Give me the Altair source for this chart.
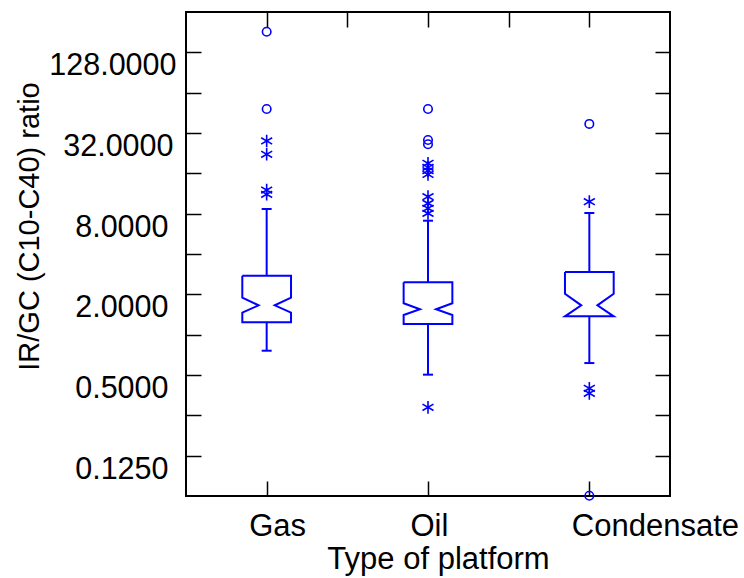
import altair as alt
import pandas as pd

# ---- data ----
categories = ["Gas", "Oil", "Condensate"]
positions = [1, 2, 3]
q1 = [1.236, 1.20, 1.371]
median = [1.656, 1.546, 1.656]
q3 = [2.755, 2.46, 2.94]
notch_lo = [1.459, 1.403, 1.371]
notch_hi = [1.888, 1.714, 2.02]
whisker_lo = [0.759, 0.503, 0.614]
whisker_hi = [8.67, 7.09, 8.09]

far_gas = [182.5, 48.3]
far_oil = [48.3, 28.4, 26.4]
far_cond = [37.4, 0.0628]
near_gas = [27.9, 22.2, 12.0, 11.16]
near_oil = [19.0, 17.75, 16.75, 15.7, 10.71, 9.55, 8.77, 8.04, 0.287]
near_cond = [9.83, 0.398, 0.365]

y_ticks = [0.125, 0.25, 0.5, 1, 2, 4, 8, 16, 32, 64, 128]
x_top_ticks = [1, 1.5, 2, 2.5, 3]

# ---- styling constants ----
BLUE = "#0000ff"
FONT = "Liberation Sans"
BOX_HALF = 0.151
NOTCH_HALF = 0.05
CAP_HALF = 0.031
STAR = "M0,-1L0,1M-0.87,-0.5L0.87,0.5M-0.87,0.5L0.87,-0.5"

# ---- tables built from the arrays ----
poly_rows = []
for i, c in enumerate(categories):
    x = positions[i]
    pts = [
        (x - BOX_HALF, q3[i]), (x + BOX_HALF, q3[i]), (x + BOX_HALF, notch_hi[i]),
        (x + NOTCH_HALF, median[i]), (x + BOX_HALF, notch_lo[i]), (x + BOX_HALF, q1[i]),
        (x - BOX_HALF, q1[i]), (x - BOX_HALF, notch_lo[i]), (x - NOTCH_HALF, median[i]),
        (x - BOX_HALF, notch_hi[i]), (x - BOX_HALF, q3[i]),
    ]
    for k, (px, py) in enumerate(pts):
        poly_rows.append({"cat": c, "k": k, "x": px, "y": py})
poly = pd.DataFrame(poly_rows)

whisk_rows = []
cap_rows = []
for i, c in enumerate(categories):
    x = positions[i]
    whisk_rows.append({"cat": c, "x": x, "y": q3[i], "y2": whisker_hi[i]})
    whisk_rows.append({"cat": c, "x": x, "y": q1[i], "y2": whisker_lo[i]})
    cap_rows.append({"cat": c, "xl": x - CAP_HALF, "xr": x + CAP_HALF, "y": whisker_hi[i]})
    cap_rows.append({"cat": c, "xl": x - CAP_HALF, "xr": x + CAP_HALF, "y": whisker_lo[i]})
whisk = pd.DataFrame(whisk_rows)
caps = pd.DataFrame(cap_rows)

far = pd.DataFrame(
    [{"x": positions[0], "y": v} for v in far_gas]
    + [{"x": positions[1], "y": v} for v in far_oil]
    + [{"x": positions[2], "y": v} for v in far_cond]
)
near = pd.DataFrame(
    [{"x": positions[0], "y": v} for v in near_gas]
    + [{"x": positions[1], "y": v} for v in near_oil]
    + [{"x": positions[2], "y": v} for v in near_cond]
)

xs = alt.Scale(domain=[0.5, 3.5], nice=False, zero=False)
ys = alt.Scale(type="log", base=2, domain=[0.0625, 256], nice=False)

label_expr_x = " : ".join(
    f"datum.value == {p} ? '{c}'" for p, c in zip(positions[:-1], categories[:-1])
) + f" : '{categories[-1]}'"

axis_bottom = alt.Axis(
    orient="bottom", offset=-15, values=positions, tickSize=15, tickWidth=1.5,
    tickColor="black", domain=False, grid=False, labelExpr=label_expr_x,
    labelAlign="left", labelBaseline="alphabetic", labelOffset=-18, labelPadding=39,
    labelFont=FONT, labelFontSize=31, labelColor="black", labelFlush=False,
    labelOverlap=False, title="Type of platform", titleFont=FONT, titleFontSize=31,
    titleFontWeight="normal", titleColor="black", titleX=252, titleY=87,
    titleBaseline="alphabetic", titleAlign="center",
)
axis_left = alt.Axis(
    orient="left", offset=-15, values=y_ticks, tickSize=15, tickWidth=1.5,
    tickColor="black", domain=False, grid=False,
    labelExpr="round(log(datum.value)/LN2) % 2 != 0 ? format(datum.value, '.4f') : ''",
    labelFont=FONT, labelFontSize=30.5, labelColor="black",
    labelPadding={
        "condition": [
            {"test": "datum.value >= 100", "value": 10},
            {"test": "datum.value >= 10", "value": 13},
        ],
        "value": 18,
    },
    labelOffset=13.5, labelBaseline="middle", labelAlign="right", labelFlush=False,
    labelOverlap=False, title="IR/GC (C10-C40) ratio", titleFont=FONT,
    titleFontSize=29, titleFontWeight="normal", titleColor="black", titleX=-163,
    titleY=214, titleAngle=270, titleBaseline="alphabetic", titleAlign="center",
)
axis_top = alt.Axis(
    orient="top", offset=-15, values=x_top_ticks, tickSize=15, tickWidth=1.5,
    tickColor="black", domain=False, grid=False, labels=False, title=None,
)
axis_right = alt.Axis(
    orient="right", offset=-15, values=y_ticks, tickSize=15, tickWidth=1.5,
    tickColor="black", domain=False, grid=False, labels=False, title=None,
)

box = alt.Chart(poly).mark_line(color=BLUE, strokeWidth=2, strokeJoin="miter").encode(
    x=alt.X("x:Q", scale=xs, axis=axis_bottom),
    y=alt.Y("y:Q", scale=ys, axis=axis_left),
    detail="cat:N",
    order="k:Q",
)
whiskers = alt.Chart(whisk).mark_rule(color=BLUE, strokeWidth=2).encode(
    x=alt.X("x:Q", scale=xs, axis=axis_top),
    y=alt.Y("y:Q", scale=ys, axis=axis_right),
    y2="y2:Q",
)
cap_marks = alt.Chart(caps).mark_rule(color=BLUE, strokeWidth=2).encode(
    x=alt.X("xl:Q", scale=xs, axis=None),
    x2="xr:Q",
    y=alt.Y("y:Q", scale=ys, axis=None),
)
circles = alt.Chart(far).mark_point(
    shape="circle", size=72, filled=False, color=BLUE, strokeWidth=1.6, opacity=1
).encode(
    x=alt.X("x:Q", scale=xs, axis=None),
    y=alt.Y("y:Q", scale=ys, axis=None),
)
stars = alt.Chart(near).mark_point(
    shape=STAR, size=160, filled=False, color=BLUE, strokeWidth=1.6, opacity=1
).encode(
    x=alt.X("x:Q", scale=xs, axis=None),
    y=alt.Y("y:Q", scale=ys, axis=None),
)

chart = (
    alt.layer(box, whiskers, cap_marks, circles, stars)
    .resolve_axis(x="independent", y="independent")
    .properties(
        width=484, height=484,
        padding={"left": 186, "top": 12, "right": 74, "bottom": 82},
        autosize=alt.AutoSizeParams(type="none"),
        background="white",
    )
    .configure_view(stroke="black", strokeWidth=2)
)

chart.save("out.html", embed_options={"renderer": "svg", "actions": False})
